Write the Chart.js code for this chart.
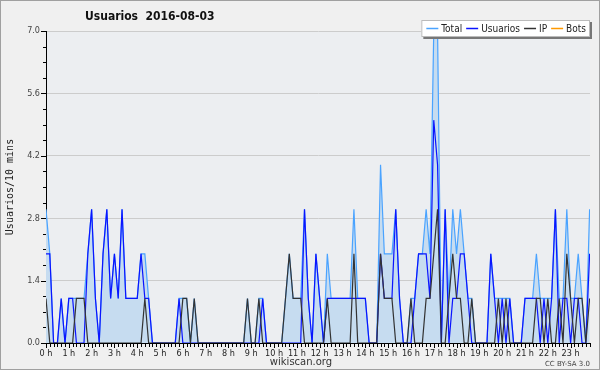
<!DOCTYPE html>
<html>
<head>
<meta charset="utf-8">
<script src="https://cdn.jsdelivr.net/npm/chart.js@4.4.0/dist/chart.umd.min.js"></script>
<style>
  html, body { margin: 0; padding: 0; background: #f0f0f0; }
  canvas { display: block; }
</style>
</head>
<body>
<canvas id="grafico" width="600" height="370"></canvas>
<script>
// one value every 10 minutes, 6 per row = 1 hour
var titulo = 'Usuarios  2016-08-03';
var tituloY = 'Usuarios/10 mins';
var horas = ['0 h', '1 h', '2 h', '3 h', '4 h', '5 h', '6 h', '7 h', '8 h', '9 h', '10 h', '11 h',
             '12 h', '13 h', '14 h', '15 h', '16 h', '17 h', '18 h', '19 h', '20 h', '21 h', '22 h', '23 h'];
var valoresY = [0, 1.4, 2.8, 4.2, 5.6, 7.0];

var total = [
  3,2,0,0,1,0,  1,1,1,1,1,2,  3,1,0,2,3,1,  2,1,3,1,1,1,
  1,2,2,1,0,0,  0,0,0,0,0,1,  1,1,0,1,0,0,  0,0,0,0,0,0,
  0,0,0,0,0,1,  0,0,1,1,0,0,  0,0,0,1,2,1,  1,1,3,1,0,2,
  1,0,2,1,1,1,  1,1,1,3,1,1,  1,0,0,0,4,2,  2,2,3,1,0,0,
  1,1,2,2,3,2,  7,7,0,3,1,3,  2,3,2,1,1,0,  0,0,0,2,1,1,
  1,1,1,0,0,0,  1,1,1,2,1,1,  1,1,3,1,1,3,  1,1,2,1,0,3
];
var usuarios = [
  2,2,0,0,1,0,  1,1,0,0,0,2,  3,1,0,2,3,1,  2,1,3,1,1,1,
  1,2,1,1,0,0,  0,0,0,0,0,1,  0,0,0,0,0,0,  0,0,0,0,0,0,
  0,0,0,0,0,0,  0,0,0,1,0,0,  0,0,0,0,0,0,  0,0,3,1,0,2,
  1,0,1,1,1,1,  1,1,1,1,1,1,  1,0,0,0,2,1,  1,1,3,1,0,0,
  0,1,2,2,2,1,  5,4,0,3,0,1,  1,2,2,1,0,0,  0,0,0,2,1,0,
  1,0,1,0,0,0,  1,1,1,1,0,1,  0,1,3,0,1,1,  0,1,1,0,0,2
];
var ip = [
  1,0,0,0,0,0,  0,0,1,1,1,0,  0,0,0,0,0,0,  0,0,0,0,0,0,
  0,0,1,0,0,0,  0,0,0,0,0,0,  1,1,0,1,0,0,  0,0,0,0,0,0,
  0,0,0,0,0,1,  0,0,1,0,0,0,  0,0,0,1,2,1,  1,1,0,0,0,0,
  0,0,1,0,0,0,  0,0,0,2,0,0,  0,0,0,0,2,1,  1,1,0,0,0,0,
  1,0,0,0,1,1,  2,3,0,0,1,2,  1,1,0,0,1,0,  0,0,0,0,0,1,
  0,1,0,0,0,0,  0,0,0,1,1,0,  1,0,0,1,0,2,  1,0,1,1,0,1
];
var bots = [
  0,0,0,0,0,0,  0,0,0,0,0,0,  0,0,0,0,0,0,  0,0,0,0,0,0,
  0,0,0,0,0,0,  0,0,0,0,0,0,  0,0,0,0,0,0,  0,0,0,0,0,0,
  0,0,0,0,0,0,  0,0,0,0,0,0,  0,0,0,0,0,0,  0,0,0,0,0,0,
  0,0,0,0,0,0,  0,0,0,0,0,0,  0,0,0,0,0,0,  0,0,0,0,0,0,
  0,0,0,0,0,0,  0,0,0,0,0,0,  0,0,0,0,0,0,  0,0,0,0,0,0,
  0,0,0,0,0,0,  0,0,0,0,0,0,  0,0,0,0,0,0,  0,0,0,0,0,0
];

function puntos(serie) {
  return serie.map(function(v, i) { return {x: i, y: v}; });
}

var condensada = '"DejaVu Sans Condensed", "DejaVu Sans", sans-serif';

var decorado = {
  id: 'decorado',
  beforeDraw: function(chart) {
    var ctx = chart.ctx, a = chart.chartArea;
    ctx.save();
    ctx.fillStyle = '#f0f0f0';
    ctx.fillRect(0, 0, chart.width, chart.height);
    ctx.strokeStyle = '#a0a0a0';
    ctx.lineWidth = 1;
    ctx.strokeRect(0.5, 0.5, chart.width - 1, chart.height - 1);
    ctx.fillStyle = '#eceef1';
    ctx.fillRect(a.left, a.top, a.right - a.left, a.bottom - a.top);
    ctx.restore();
  },
  afterDraw: function(chart) {
    var ctx = chart.ctx, a = chart.chartArea;
    var xs = chart.scales.x, ys = chart.scales.y;
    var i, p, len;
    ctx.save();
    ctx.strokeStyle = '#000';
    ctx.lineWidth = 1;
    ctx.beginPath();
    // y ticks, minor every 0.35
    for (i = 0; i <= 20; i++) {
      p = Math.round(ys.getPixelForValue(i * 0.35)) + 0.5;
      len = (i % 4 == 0) ? 5 : 3;
      ctx.moveTo(a.left - len, p);
      ctx.lineTo(a.left, p);
    }
    // x ticks, one per 10 minutes
    for (i = 0; i < total.length; i++) {
      p = Math.round(xs.getPixelForValue(i)) + 0.5;
      len = (i % 6 == 0) ? 5 : 4;
      ctx.moveTo(p, a.bottom);
      ctx.lineTo(p, a.bottom + len);
    }
    ctx.stroke();

    // title
    ctx.fillStyle = '#111';
    ctx.font = 'bold 12px ' + condensada;
    ctx.textBaseline = 'middle';
    ctx.textAlign = 'left';
    ctx.fillText(titulo, 85, 17);

    // legend box
    ctx.font = '10px ' + condensada;
    var sets = chart.data.datasets;
    var anchos = sets.map(function(d) { return ctx.measureText(d.label).width; });
    var w = 5;
    anchos.forEach(function(t) { w += 12 + 3 + t + 4; });
    var bx = 590 - w, by = 20, bh = 17;
    ctx.fillStyle = '#777';
    ctx.fillRect(bx + 2, by + 2, w, bh);
    ctx.fillStyle = '#fff';
    ctx.fillRect(bx, by, w, bh);
    ctx.strokeStyle = '#bbb';
    ctx.strokeRect(bx + 0.5, by + 0.5, w - 1, bh - 1);
    var cx = bx + 5, cy = by + bh / 2;
    sets.forEach(function(d, k) {
      ctx.strokeStyle = d.borderColor;
      ctx.lineWidth = 1.5;
      ctx.beginPath();
      ctx.moveTo(cx, cy);
      ctx.lineTo(cx + 12, cy);
      ctx.stroke();
      ctx.fillStyle = '#222';
      ctx.fillText(d.label, cx + 15, cy + 0.5);
      cx += 12 + 3 + anchos[k] + 4;
    });

    // footer
    ctx.fillStyle = '#333';
    ctx.textAlign = 'center';
    ctx.textBaseline = 'alphabetic';
    ctx.font = '10px "DejaVu Sans", sans-serif';
    ctx.fillText('wikiscan.org', 301, 365);
    ctx.textAlign = 'right';
    ctx.font = '7px "DejaVu Sans", sans-serif';
    ctx.fillStyle = '#444';
    ctx.fillText('CC BY-SA 3.0', 590, 366);
    ctx.restore();
  }
};

new Chart(document.getElementById('grafico'), {
  type: 'line',
  data: {
    datasets: [{
      label: 'Total',
      data: puntos(total),
      borderColor: '#4aa3ff',
      backgroundColor: '#c6dcf0',
      borderWidth: 1.2,
      fill: 'origin',
      order: 4
    }, {
      label: 'Usuarios',
      data: puntos(usuarios),
      borderColor: '#0a14ff',
      borderWidth: 1.2,
      fill: false,
      order: 2
    }, {
      label: 'IP',
      data: puntos(ip),
      borderColor: '#333333',
      borderWidth: 1.2,
      fill: false,
      order: 1
    }, {
      label: 'Bots',
      data: puntos(bots),
      borderColor: '#ff9900',
      borderWidth: 1.2,
      fill: false,
      order: 5
    }]
  },
  options: {
    responsive: false,
    animation: false,
    devicePixelRatio: 1,
    layout: { padding: { top: 31, right: 10, bottom: 0, left: 0 } },
    elements: { point: { radius: 0 }, line: { tension: 0 } },
    plugins: { legend: { display: false }, tooltip: { enabled: false } },
    scales: {
      x: {
        type: 'linear',
        min: 0,
        max: 143.1,
        z: 1,
        afterFit: function(s) { s.height = 27; },
        afterBuildTicks: function(s) {
          s.ticks = horas.map(function(h, k) { return {value: k * 6}; });
        },
        grid: { display: true, drawOnChartArea: false, drawTicks: false },
        border: { display: true, color: '#000', width: 1 },
        ticks: {
          padding: 5,
          maxRotation: 0,
          autoSkip: false,
          color: '#222',
          font: { family: condensada, size: 9 },
          callback: function(v) { return horas[v / 6]; }
        }
      },
      y: {
        min: 0,
        max: 7,
        afterFit: function(s) { s.width = 46; },
        afterBuildTicks: function(s) {
          s.ticks = valoresY.map(function(v) { return {value: v}; });
        },
        grid: { color: '#cccccc', lineWidth: 1, drawTicks: false },
        border: { display: true, color: '#000', width: 1 },
        ticks: {
          padding: 6,
          color: '#444',
          font: { family: condensada, size: 9 },
          callback: function(v) { return v.toFixed(1); }
        },
        title: {
          display: true,
          text: tituloY,
          color: '#222',
          font: { family: '"DejaVu Sans Mono", monospace', size: 10 },
          padding: { top: 4, bottom: 0 }
        }
      }
    }
  },
  plugins: [decorado]
});
</script>
</body>
</html>
